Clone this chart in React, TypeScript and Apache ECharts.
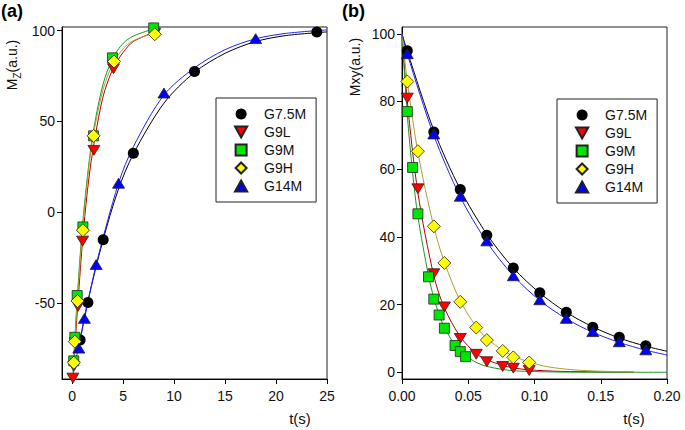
import React, { useEffect, useRef } from "react";
import * as echarts from "echarts";

// ---------- Data: panel (a) longitudinal recovery Mz ----------
const namesAll = ["G7.5M", "G9L", "G9M", "G9H", "G14M"];

const aG75M: number[][] = [[0.78, -70.5], [1.54, -49.8], [3.04, -15.2], [6, 32.4], [12, 77.5], [24, 99.3]];
const aG9L: number[][] = [[0.07, -91.5], [0.16, -85], [0.3, -72], [0.57, -52], [1.02, -16], [2.13, 34], [4.05, 79], [8.1, 98.5]];
const aG9M: number[][] = [[0.15, -82], [0.26, -69], [0.49, -46], [1.05, -8.2], [2.1, 42], [3.95, 85], [8, 101.5]];
const aG9H: number[][] = [[0.16, -83], [0.26, -71.4], [0.52, -49], [1.05, -10], [2.1, 42], [4.1, 83], [8.1, 98]];
const aG14M: number[][] = [[0.65, -75], [1.2, -58.6], [2.35, -28.9], [4.55, 15.9], [9, 65.6], [18, 95.6]];

// fitted curves
const aFitG75M: number[][] = [[0.6, -75], [0.78, -70], [1.5, -50], [3, -16], [4.5, 12], [6, 32], [9, 60], [12, 77], [15, 87.5], [18, 94], [21, 97.3], [25, 99.3]];
const aFitG9L: number[][] = [[0.07, -92], [0.25, -75], [0.5, -55], [1, -17], [1.5, 12], [2, 33], [3, 63], [4, 79], [5, 88], [6, 94], [8, 99]];
const aFitG9M: number[][] = [[0.1, -88], [0.25, -71], [0.5, -47], [1, -8], [1.5, 20], [2, 42], [3, 70], [4, 85], [5, 93], [6, 97], [8, 101]];
const aFitG9H: number[][] = [[0.1, -88], [0.25, -72], [0.5, -49], [1, -11], [1.5, 18], [2, 40], [3, 67], [4, 82], [5, 90], [6, 94.5], [8, 98.5]];
const aFitG14M: number[][] = [[0.4, -80], [0.65, -74], [1.2, -59], [2.35, -29], [4.55, 16], [6, 36], [9, 64.5], [12, 79.5], [15, 89.5], [18, 95.5], [21, 98.5], [25, 100.4]];

// ---------- Data: panel (b) transverse decay Mxy ----------
const bG75M: number[][] = [[0.004, 95], [0.024, 71], [0.044, 54], [0.064, 40.5], [0.084, 30.8], [0.104, 23.5], [0.124, 17.7], [0.144, 13.3], [0.164, 10.3], [0.184, 7.8]];
const bG9L: number[][] = [[0.004, 81], [0.012, 54.2], [0.024, 29.1], [0.032, 19.3], [0.044, 10], [0.056, 5.3], [0.064, 3.1], [0.076, 1.7], [0.084, 1.2], [0.096, 0.5]];
const bG9M: number[][] = [[0.004, 77], [0.008, 60.5], [0.012, 46.8], [0.02, 28.2], [0.024, 21.6], [0.028, 16.9], [0.032, 13], [0.04, 7.9], [0.044, 6.1], [0.048, 4.6]];
const bG9H: number[][] = [[0.004, 85.9], [0.012, 65.3], [0.024, 43.1], [0.032, 32.3], [0.044, 20.8], [0.056, 13.2], [0.064, 9.5], [0.076, 6.3], [0.084, 4.4], [0.096, 2.9]];
const bG14M: number[][] = [[0.004, 94.1], [0.024, 70.4], [0.044, 52], [0.064, 38.8], [0.084, 28.5], [0.104, 21.4], [0.124, 15.9], [0.144, 12], [0.164, 9], [0.184, 6.6]];

const bFitG75M: number[][] = [[0, 100], [0.004, 94.8], [0.024, 71.5], [0.044, 54], [0.064, 40.8], [0.084, 30.8], [0.104, 23.4], [0.124, 17.7], [0.144, 13.4], [0.164, 10.1], [0.184, 7.7], [0.2, 6.2]];
const bFitG9L: number[][] = [[0, 100], [0.004, 80], [0.012, 53], [0.024, 28.5], [0.032, 19], [0.044, 10.5], [0.056, 5.5], [0.064, 3.7], [0.076, 2], [0.084, 1.3], [0.096, 0.7], [0.12, 0.25], [0.15, 0.1], [0.175, 0]];
const bFitG9M: number[][] = [[0, 100], [0.004, 76], [0.008, 59], [0.012, 46], [0.02, 28.5], [0.024, 22], [0.028, 17], [0.032, 13.3], [0.04, 8], [0.048, 4.9], [0.06, 2.2], [0.08, 0.6], [0.1, 0.2], [0.14, 0], [0.2, 0]];
const bFitG9H: number[][] = [[0, 100], [0.004, 86], [0.012, 65], [0.024, 43], [0.032, 32.5], [0.044, 21], [0.056, 13.5], [0.064, 10], [0.076, 6.5], [0.084, 4.8], [0.096, 3], [0.11, 1.6], [0.13, 0.7], [0.15, 0.3], [0.175, 0.1]];
const bFitG14M: number[][] = [[0, 100], [0.004, 94], [0.024, 70], [0.044, 51.8], [0.064, 38.5], [0.084, 28.5], [0.104, 21.2], [0.124, 15.8], [0.144, 11.8], [0.164, 8.8], [0.184, 6.5], [0.2, 5.1]];

// tick labels
const xTicksA = [0, 5, 10, 15, 20, 25];
const yTicksA = [-50, 0, 50, 100];
const xTicksB = [0, 0.05, 0.1, 0.15, 0.2];
const yTicksB = [0, 20, 40, 60, 80, 100];

const FONT = "'Liberation Sans', Arial, sans-serif";
const symbols = [
  "circle",
  "path://M0,0L20,0L10,18Z",
  "path://M0,0L10,0L10,10L0,10Z",
  "path://M5,0L10,5L5,10L0,5Z",
  "path://M10,0L20,18L0,18Z",
];
const symSizes: any[] = [11, [12, 11], 10, 13, [12, 11]];
const fills = ["#000000", "#ff0000", "#00e600", "#ffff00", "#0000ff"];
const lineColors = ["#000000", "#b00000", "#1e961e", "#a8a030", "#2020ff"];

const ptsA = [aG75M, aG9L, aG9M, aG9H, aG14M];
const fitA = [aFitG75M, aFitG9L, aFitG9M, aFitG9H, aFitG14M];
const ptsB = [bG75M, bG9L, bG9M, bG9H, bG14M];
const fitB = [bFitG75M, bFitG9L, bFitG9M, bFitG9H, bFitG14M];

function makeAxis(gridIndex: number, min: number, max: number, ticks: number[], fmt: (v: number) => string, isX: boolean) {
  return {
    type: "value",
    gridIndex,
    min,
    max,
    axisLine: { show: true, onZero: false, lineStyle: { color: "#000", width: 1 } },
    axisTick: { show: true, inside: false, length: 5, customValues: ticks, lineStyle: { color: "#000" } },
    axisLabel: {
      customValues: ticks,
      formatter: fmt,
      fontSize: 14,
      fontFamily: FONT,
      color: "#111",
      margin: isX ? 10 : 7,
    },
    splitLine: { show: false },
  };
}

function buildSeries(pts: number[][][], fits: number[][][], axisIdx: number) {
  const out: any[] = [];
  fits.forEach((d, i) => {
    out.push({
      type: "line",
      name: namesAll[i] + " fit",
      xAxisIndex: axisIdx,
      yAxisIndex: axisIdx,
      data: d,
      smooth: 0.3,
      showSymbol: false,
      symbol: "none",
      lineStyle: { color: lineColors[i], width: 1 },
      z: 2,
      silent: true,
    });
  });
  pts.forEach((d, i) => {
    out.push({
      type: "scatter",
      name: namesAll[i],
      xAxisIndex: axisIdx,
      yAxisIndex: axisIdx,
      data: d,
      symbol: symbols[i],
      symbolSize: symSizes[i],
      symbolKeepAspect: true,
      itemStyle: { color: fills[i], borderColor: "#222", borderWidth: i === 0 ? 0 : 0.8, opacity: 1 },
      z: 3 + i,
    });
  });
  return out;
}

function legendAt(left: number, top: number) {
  return {
    orient: "vertical",
    left,
    top,
    data: namesAll,
    itemWidth: 36,
    itemHeight: 11,
    itemGap: 4,
    symbolKeepAspect: true,
    padding: [9, 10, 9, 18],
    borderColor: "#222",
    borderWidth: 1,
    backgroundColor: "#fff",
    textStyle: { fontSize: 14, fontFamily: FONT, color: "#111" },
    selectedMode: false,
  };
}

export default function App() {
  const ref = useRef<HTMLDivElement>(null);
  useEffect(() => {
    if (!ref.current) return;
    const chart = echarts.init(ref.current, null, { renderer: "svg" });
    const option: any = {
      animation: false,
      backgroundColor: "#fff",
      grid: [
        { left: 62, top: 27, width: 265, height: 352, show: true, borderColor: "#222", borderWidth: 1, containLabel: false },
        { left: 402, top: 27, width: 265, height: 352, show: true, borderColor: "#222", borderWidth: 1, containLabel: false },
      ],
      xAxis: [
        makeAxis(0, -1, 25, xTicksA, (v: number) => String(v), true),
        makeAxis(1, 0, 0.2, xTicksB, (v: number) => v.toFixed(2), true),
      ],
      yAxis: [
        makeAxis(0, -92, 102, yTicksA, (v: number) => String(v), false),
        makeAxis(1, -2, 102, yTicksB, (v: number) => String(v), false),
      ],
      legend: [legendAt(216, 98), legendAt(557, 99)],
      series: [...buildSeries(ptsA, fitA, 0), ...buildSeries(ptsB, fitB, 1)],
      graphic: [
        { type: "text", left: 1, top: 2, style: { text: "(a)", font: `bold 18px ${FONT}`, fill: "#000" } },
        { type: "text", left: 342, top: 2, style: { text: "(b)", font: `bold 18px ${FONT}`, fill: "#000" } },
        {
          type: "text",
          x: 12,
          y: 65,
          rotation: Math.PI / 2,
          style: {
            text: "{m|M}{s|Z}{m|(a.u.)}",
            align: "center",
            verticalAlign: "middle",
            fill: "#111",
            rich: {
              m: { fontSize: 14, fontFamily: FONT, fill: "#111", lineHeight: 20 },
              s: { fontSize: 10, fontFamily: FONT, fill: "#111", verticalAlign: "bottom", lineHeight: 12 },
            },
          },
        },
        {
          type: "text",
          x: 355,
          y: 67,
          rotation: Math.PI / 2,
          style: { text: "Mxy(a.u.)", align: "center", verticalAlign: "middle", font: `14px ${FONT}`, fill: "#111" },
        },
        { type: "text", x: 300, y: 418, style: { text: "t(s)", align: "center", verticalAlign: "middle", font: `15px ${FONT}`, fill: "#111" } },
        { type: "text", x: 634, y: 418, style: { text: "t(s)", align: "center", verticalAlign: "middle", font: `15px ${FONT}`, fill: "#111" } },
      ],
    };
    chart.setOption(option);
    return () => chart.dispose();
  }, []);
  return (
    <div
      ref={ref}
      style={{ position: "fixed", left: 0, top: 0, width: 685, height: 430, background: "#fff" }}
    />
  );
}
